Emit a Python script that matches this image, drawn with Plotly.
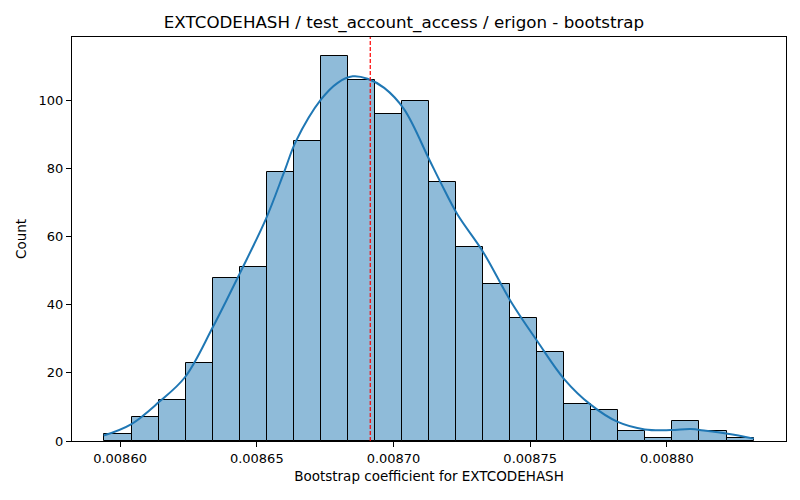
import plotly.graph_objects as go

# histogram of bootstrap coefficients (24 equal-width bins)
bin_start = 0.0085943
bin_width = 0.00000989
counts = [2, 7, 12, 23, 48, 51, 79, 88, 113, 106, 96, 100,
          76, 57, 46, 36, 26, 11, 9, 3, 1, 6, 3, 1]

# kde curve
kde_x = [0.0085940, 0.0086040, 0.0086143, 0.0086238, 0.0086339, 0.0086437,
         0.0086534, 0.0086601, 0.0086643, 0.0086735, 0.0086796, 0.0086851,
         0.0086905, 0.0086966, 0.0087039, 0.0087131, 0.0087173, 0.0087234,
         0.0087327, 0.0087429, 0.0087526, 0.0087624, 0.0087722, 0.0087820,
         0.0087919, 0.0088014, 0.0088087, 0.0088142, 0.0088222, 0.0088318]
kde_y = [1.6, 4.9, 11.5, 18.8, 33.4, 49.1,
         65.3, 79.2, 88.0, 100.3, 105.2, 107.1,
         106.4, 103.7, 97.4, 82.6, 75.8, 66.5,
         55.6, 41.0, 29.3, 18.2, 10.6, 5.6,
         3.4, 3.2, 3.5, 3.0, 2.1, 0.7]

mean_value = 0.0086915
x_ticks = [0.00860, 0.00865, 0.00870, 0.00875, 0.00880]
y_ticks = [0, 20, 40, 60, 80, 100]

BLUE = '#1f77b4'
FONT = 'DejaVu Sans'

centers = [bin_start + bin_width * (i + 0.5) for i in range(len(counts))]
lo = bin_start
hi = bin_start + bin_width * len(counts)
pad = (hi - lo) * 0.05

fig = go.Figure()
fig.add_trace(go.Bar(x=centers, y=counts, width=bin_width,
                     marker=dict(color='rgba(31,119,180,0.5)',
                                 line=dict(color='black', width=1)),
                     showlegend=False))
fig.add_trace(go.Scatter(x=kde_x, y=kde_y, mode='lines',
                         line=dict(color=BLUE, width=2, shape='spline'),
                         showlegend=False))

# dashed line at the mean
fig.add_shape(type='line', x0=mean_value, x1=mean_value, y0=0, y1=1,
              xref='x', yref='paper',
              line=dict(color='red', width=1.2, dash='4px,2px'))

# page body has an 8px margin, so the figure is drawn 8px smaller
W, H = 792, 492
fig.update_layout(
    width=W, height=H,
    margin=dict(l=64, r=14, t=29, b=59),
    paper_bgcolor='white', plot_bgcolor='white',
    font=dict(family=FONT, size=13, color='black'),
    bargap=0,
    title=dict(text='EXTCODEHASH / test_account_access / erigon - bootstrap',
               x=0.5, xanchor='center', y=1 - 14 / H, yanchor='middle',
               yref='container', font=dict(size=16.7, family=FONT)),
    xaxis=dict(range=[lo - pad, hi + pad], tickvals=x_ticks,
               ticktext=['%.5f' % v for v in x_ticks],
               showgrid=False, zeroline=False, automargin=False,
               showline=True, linecolor='black', linewidth=1, mirror=True,
               ticks='outside', ticklen=5, tickcolor='black',
               title=dict(text='Bootstrap coefficient for EXTCODEHASH',
                          standoff=6, font=dict(size=13.5))),
    yaxis=dict(range=[0, max(counts) * 1.05], tickvals=y_ticks,
               showgrid=False, zeroline=False, automargin=False,
               showline=True, linecolor='black', linewidth=1, mirror=True,
               ticks='outside', ticklen=5, tickcolor='black',
               title=dict(text='Count', standoff=8, font=dict(size=13.5))),
)

fig.write_html("out.html")
